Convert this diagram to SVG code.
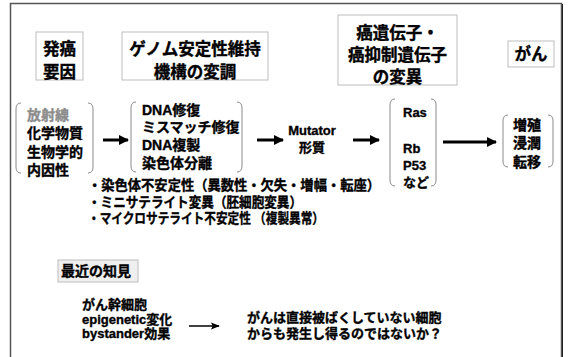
<svg xmlns="http://www.w3.org/2000/svg" width="568" height="357" viewBox="0 0 568 357">
<style>
.t{font-family:"Liberation Sans","Noto Sans CJK JP",sans-serif;font-weight:bold;fill:#000;stroke:#000;stroke-width:0.35px}
.g{fill:#8c8c8c;stroke:#8c8c8c}
.h{font-size:16.5px}
.m{font-size:14px}
.s{font-size:13px}
.box{fill:#fff;stroke:#bdbdbd;stroke-width:1}
.br{fill:none;stroke:#8a8a8a;stroke-width:1}
.ar{stroke:#000;stroke-width:3;fill:none}
</style>
<defs>
<marker id="ah" viewBox="0 0 10 10" refX="9" refY="5" markerWidth="3.4" markerHeight="3.4" orient="auto" markerUnits="strokeWidth">
<path d="M0,0 L10,5 L0,10 z" fill="#000"/>
</marker>
<marker id="ah2" viewBox="0 0 10 10" refX="9" refY="5" markerWidth="6" markerHeight="6" orient="auto" markerUnits="strokeWidth">
<path d="M0,1 L10,5 L0,9 L2,5 z" fill="#000"/>
</marker>
</defs>
<rect width="568" height="357" fill="#fff"/>
<rect x="10.5" y="3.5" width="551" height="360" fill="none" stroke="#555" stroke-width="1.5"/>
<line x1="562.5" y1="4" x2="562.5" y2="357" stroke="#222" stroke-width="1"/>

<g id="n-hatsugan">
<rect class="box" x="36" y="32" width="47" height="48"/>
<text class="t h" x="59.5" y="55" text-anchor="middle">発癌</text>
<text class="t h" x="59.5" y="78" text-anchor="middle">要因</text>
</g>
<g id="n-genome">
<rect class="box" x="122" y="32" width="146" height="48"/>
<text class="t h" x="195" y="55" text-anchor="middle">ゲノム安定性維持</text>
<text class="t h" x="195" y="78" text-anchor="middle">機構の変調</text>
</g>
<g id="n-oncogene">
<rect class="box" x="338" y="15" width="119" height="70"/>
<text class="t h" x="397.5" y="39" text-anchor="middle">癌遺伝子・</text>
<text class="t h" x="397.5" y="61" text-anchor="middle">癌抑制遺伝子</text>
<text class="t h" x="397.5" y="83" text-anchor="middle">の変異</text>
</g>
<g id="n-gan">
<rect class="box" x="508" y="41" width="46" height="26"/>
<text class="t h" x="531" y="60" text-anchor="middle">がん</text>
</g>

<g id="n-causes">
<path class="br" d="M21,103 Q16,103 16,109 V167 Q16,173 21,173"/>
<path class="br" d="M88,103 Q93,103 93,109 V167 Q93,173 88,173"/>
<text class="t m g" x="27" y="120">放射線</text>
<text class="t m" x="27" y="138">化学物質</text>
<text class="t m" x="27" y="157">生物学的</text>
<text class="t m" x="27" y="175">内因性</text>
</g>
<g id="n-repair">
<path class="br" d="M136,102 Q131,102 131,108 V166 Q131,172 136,172"/>
<path class="br" d="M237,102 Q242,102 242,108 V166 Q242,172 237,172"/>
<text class="t m" x="142" y="115">DNA修復</text>
<text class="t m" x="142" y="132">ミスマッチ修復</text>
<text class="t m" x="142" y="150">DNA複製</text>
<text class="t m" x="142" y="168">染色体分離</text>
</g>
<g id="n-mutator">
<text class="t s" x="312" y="135" text-anchor="middle">Mutator</text>
<text class="t s" x="312" y="152" text-anchor="middle">形質</text>
</g>
<g id="n-genes">
<path class="br" d="M395,99 Q390,99 390,105 V180 Q390,186 395,186"/>
<path class="br" d="M431,99 Q436,99 436,105 V180 Q436,186 431,186"/>
<text class="t s" x="403" y="117">Ras</text>
<text class="t s" x="403" y="153">Rb</text>
<text class="t s" x="403" y="170">P53</text>
<text class="t s" x="403" y="187">など</text>
</g>
<g id="n-outcome">
<path class="br" d="M508,115 Q503,115 503,121 V161 Q503,167 508,167"/>
<path class="br" d="M548,115 Q553,115 553,121 V161 Q553,167 548,167"/>
<text class="t m" x="513" y="130">増殖</text>
<text class="t m" x="513" y="148">浸潤</text>
<text class="t m" x="513" y="167">転移</text>
</g>

<g id="n-bullets">
<text class="t m" x="88" y="190" textLength="292" lengthAdjust="spacingAndGlyphs">・染色体不安定性（異数性・欠失・増幅・転座）</text>
<text class="t m" x="88" y="207" textLength="214" lengthAdjust="spacingAndGlyphs">・ミニサテライト変異（胚細胞変異）</text>
<text class="t m" x="88" y="223" textLength="236" lengthAdjust="spacingAndGlyphs">・マイクロサテライト不安定性 （複製異常）</text>
</g>

<g id="n-recent">
<rect x="58" y="260" width="80" height="22" fill="#efefef" stroke="#bdbdbd" stroke-width="1"/>
<text class="t m" x="61" y="276">最近の知見</text>
</g>
<g id="n-factors">
<text class="t s" x="82" y="309">がん幹細胞</text>
<text class="t s" x="82" y="324">epigenetic変化</text>
<text class="t s" x="82" y="338">bystander効果</text>
</g>
<g id="n-question">
<text class="t s" x="247" y="322">がんは直接被ばくしていない細胞</text>
<text class="t s" x="247" y="338">からも発生し得るのではないか？</text>
</g>

<g id="connectors">
<line class="ar" x1="103" y1="140" x2="128" y2="140" marker-end="url(#ah)"/>
<line class="ar" x1="257" y1="140" x2="283" y2="140" marker-end="url(#ah)"/>
<line class="ar" x1="353" y1="140" x2="379" y2="140" marker-end="url(#ah)"/>
<line class="ar" x1="443" y1="142" x2="496" y2="142" marker-end="url(#ah)"/>
<line x1="189" y1="326" x2="219" y2="326" stroke="#000" stroke-width="1.5" marker-end="url(#ah2)"/>
</g>
</svg>
